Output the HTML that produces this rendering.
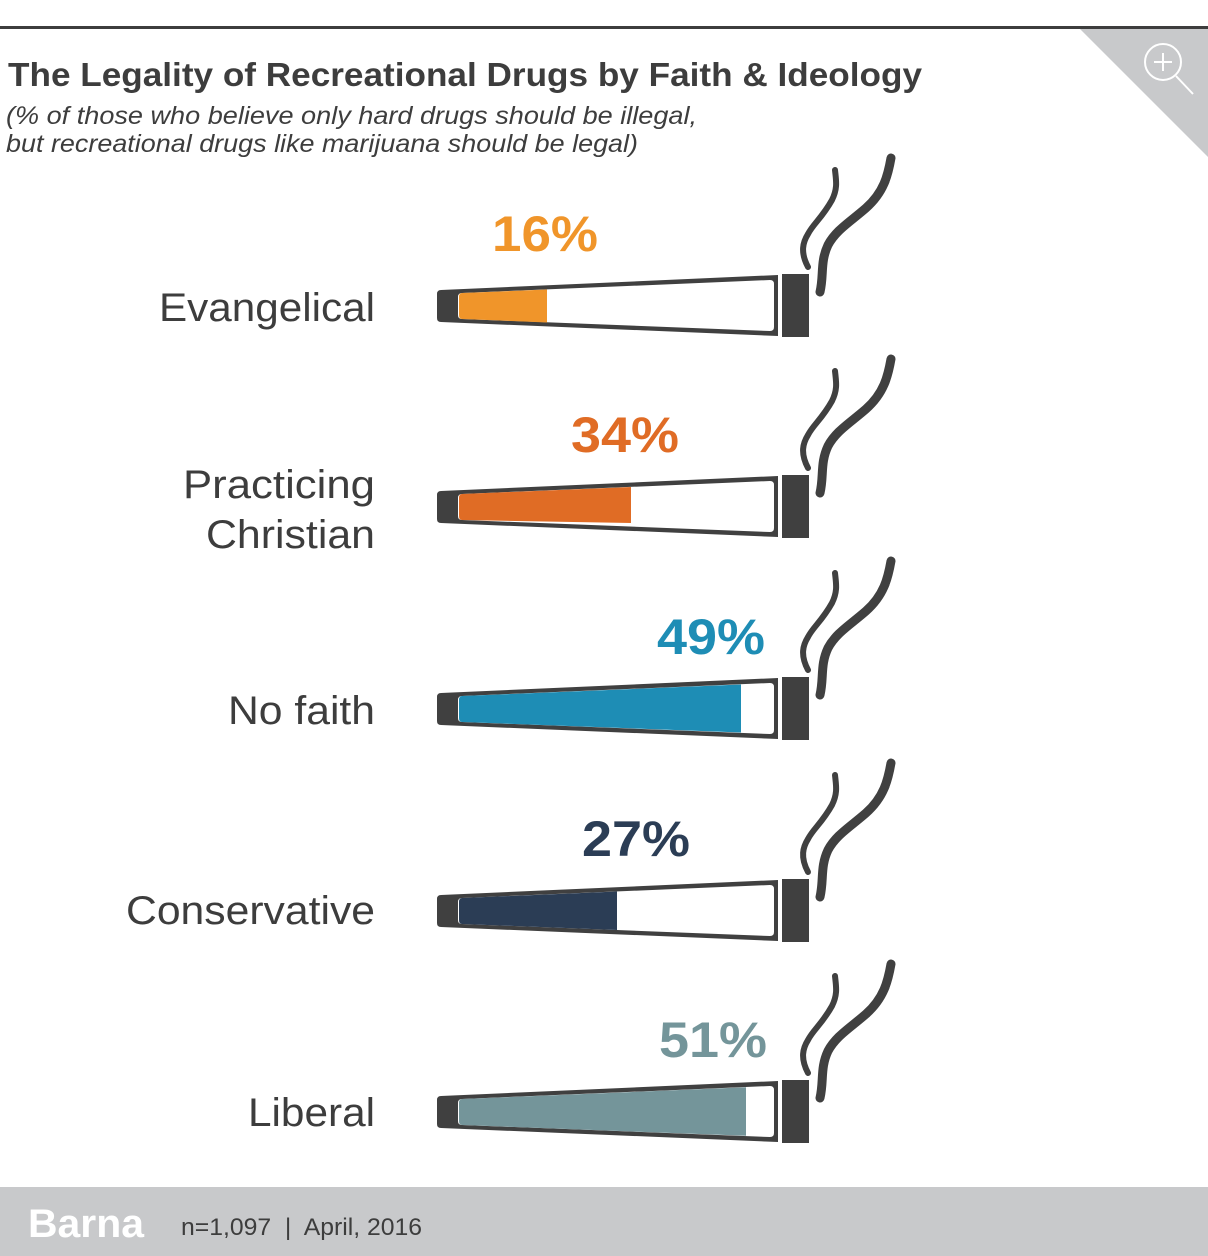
<!DOCTYPE html>
<html><head><meta charset="utf-8"><style>
body{margin:0;background:#fff;}
svg{display:block;font-family:"Liberation Sans",Arial,sans-serif;}
</style></head><body>
<svg width="1208" height="1256" viewBox="0 0 1208 1256" xmlns="http://www.w3.org/2000/svg">
<rect x="0" y="26" width="1208" height="3" fill="#3d3d3d"/>
<polygon points="1080,29 1208,29 1208,157" fill="#c8c9cb"/>
<circle cx="1163" cy="62" r="18" fill="none" stroke="#fff" stroke-width="2"/>
<line x1="1163" y1="53" x2="1163" y2="71" stroke="#fff" stroke-width="2"/>
<line x1="1154" y1="62" x2="1172" y2="62" stroke="#fff" stroke-width="2"/>
<line x1="1176" y1="76" x2="1193" y2="94" stroke="#fff" stroke-width="2"/>
<text x="8" y="86" font-size="33" font-weight="bold" fill="#3d3d3d" textLength="914" lengthAdjust="spacingAndGlyphs">The Legality of Recreational Drugs by Faith &amp; Ideology</text>
<text x="6" y="124" font-size="25" font-style="italic" fill="#3d3d3d" textLength="691" lengthAdjust="spacingAndGlyphs">(% of those who believe only hard drugs should be illegal,</text>
<text x="6" y="152" font-size="25" font-style="italic" fill="#3d3d3d" textLength="632" lengthAdjust="spacingAndGlyphs">but recreational drugs like marijuana should be legal)</text>

<defs>
<g id="cig">
<path d="M441,290 L778,275 L778,336 L441,322 Q437,322 437,318 L437,294 Q437,290 441,290 Z" fill="#404040"/>
<path d="M462,293 L770,280 Q774,280 774,284 L774,327 Q774,331 770,331 L462,319 Q458,319 458,315 L458,297 Q458,293 462,293 Z" fill="#fff"/>
<rect x="782" y="274" width="27" height="63" fill="#404040"/>
<path d="M808,267 C800,252 803,242 808,234 C813,224 822,218 832,200 C838,188 836,180 835,170" fill="none" stroke="#404040" stroke-width="6" stroke-linecap="round"/>
<path d="M820,292 C824,275 820,262 828,245 C836,230 850,222 866,208 C884,192 888,175 891,158" fill="none" stroke="#404040" stroke-width="9" stroke-linecap="round"/>
</g>
</defs>

<g font-size="40" fill="#3d3d3d" text-anchor="end" lengthAdjust="spacingAndGlyphs">
<text x="375" y="321" textLength="216" lengthAdjust="spacingAndGlyphs">Evangelical</text>
<text x="375" y="498" textLength="192" lengthAdjust="spacingAndGlyphs">Practicing</text>
<text x="375" y="548" textLength="169" lengthAdjust="spacingAndGlyphs">Christian</text>
<text x="375" y="724" textLength="147" lengthAdjust="spacingAndGlyphs">No faith</text>
<text x="375" y="924" textLength="249" lengthAdjust="spacingAndGlyphs">Conservative</text>
<text x="375" y="1126" textLength="127" lengthAdjust="spacingAndGlyphs">Liberal</text>
</g>

<g font-size="50" font-weight="bold" text-anchor="middle">
<text x="545" y="251" fill="#f0952a" textLength="106" lengthAdjust="spacingAndGlyphs">16%</text>
<text x="625" y="452" fill="#e06c25" textLength="108" lengthAdjust="spacingAndGlyphs">34%</text>
<text x="711" y="654" fill="#1e8db5" textLength="108" lengthAdjust="spacingAndGlyphs">49%</text>
<text x="636" y="856" fill="#2b3d55" textLength="108" lengthAdjust="spacingAndGlyphs">27%</text>
<text x="713" y="1057" fill="#74959a" textLength="108" lengthAdjust="spacingAndGlyphs">51%</text>
</g>

<use href="#cig" transform="translate(0,0)"/>
<path d="M462,293 L547,289.5 L547,322.5 L462,319 Q459,319 459,315 L459,297 Q459,293 462,293Z" fill="#f0952a"/>
<g transform="translate(0,201)">
<use href="#cig"/>
<path d="M462,293 L631,286 L631,322 L462,319 Q459,319 459,315 L459,297 Q459,293 462,293Z" fill="#e06c25"/>
</g>
<g transform="translate(0,403)">
<use href="#cig"/>
<path d="M462,293 L741,281.5 L741,329.5 L462,319 Q459,319 459,315 L459,297 Q459,293 462,293Z" fill="#1e8db5"/>
</g>
<g transform="translate(0,605)">
<use href="#cig"/>
<path d="M462,293 L617,286.5 L617,325 L462,319 Q459,319 459,315 L459,297 Q459,293 462,293Z" fill="#2b3d55"/>
</g>
<g transform="translate(0,806)">
<use href="#cig"/>
<path d="M462,293 L746,281.3 L746,329.8 L462,319 Q459,319 459,315 L459,297 Q459,293 462,293Z" fill="#74959a"/>
</g>

<rect x="0" y="1187" width="1208" height="69" fill="#c8c9cb"/>
<text x="28" y="1237" font-size="40" font-weight="bold" fill="#fff" textLength="116" lengthAdjust="spacingAndGlyphs">Barna</text>
<text x="181" y="1235" font-size="24" fill="#3d3d3d" xml:space="preserve" textLength="241" lengthAdjust="spacingAndGlyphs">n=1,097  |  April, 2016</text>
</svg>
</body></html>
